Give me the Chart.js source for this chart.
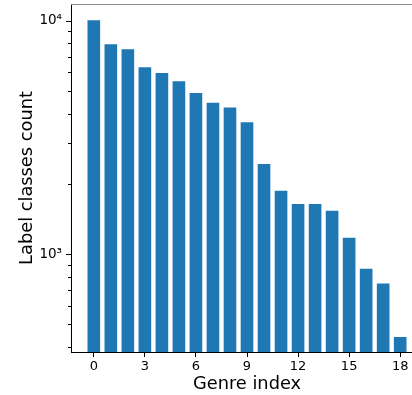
<!DOCTYPE html>
<html>
<head>
<meta charset="utf-8">
<script src="https://cdn.jsdelivr.net/npm/chart.js@4/dist/chart.umd.min.js"></script>
<style>
html,body{margin:0;padding:0;background:#fff;overflow:hidden;width:412px;height:395px;}
#wrap{width:424px;height:395px;}
</style>
</head>
<body>
<div id="wrap"><canvas id="c" width="424" height="395"></canvas></div>
<script>
const genres = [0,1,2,3,4,5,6,7,8,9,10,11,12,13,14,15,16,17,18];
const counts = [10140,8000,7620,6380,6035,5560,4955,4500,4285,3711,2455,1886,1655,1655,1549,1187,874,756,446];
const xTicks = [0,3,6,9,12,15,18];
const yMajor = [1000,10000];
const yMinor = [400,500,600,700,800,900,2000,3000,4000,5000,6000,7000,8000,9000];
const yMajorLabels = {1000:'10\u00B3',10000:'10\u2074'};

const FONT = 'DejaVu Sans';

const spines = {
  id:'spines',
  afterDraw(chart){
    const ctx = chart.ctx, ca = chart.chartArea, y = chart.scales.y;
    ctx.save();
    ctx.strokeStyle = '#000'; ctx.lineWidth = 1;
    y.ticks.forEach(t => {
      const p = Math.round(y.getPixelForValue(t.value)) + 0.5;
      const len = yMajor.includes(t.value) ? 5 : 3;
      ctx.beginPath(); ctx.moveTo(ca.left - len, p); ctx.lineTo(ca.left, p); ctx.stroke();
    });
    ctx.strokeStyle = '#8a8a8a';
    ctx.beginPath(); ctx.moveTo(ca.left, Math.round(ca.top)+0.5); ctx.lineTo(ca.right, Math.round(ca.top)+0.5); ctx.stroke();
    ctx.beginPath(); ctx.moveTo(Math.round(ca.right)+0.5, ca.top); ctx.lineTo(Math.round(ca.right)+0.5, ca.bottom); ctx.stroke();
    ctx.restore();
  }
};

new Chart(document.getElementById('c'), {
  type:'bar',
  data:{
    datasets:[{
      data: genres.map((g,i)=>({x:g, y:counts[i]})),
      backgroundColor:'#1f77b4',
      borderColor:'rgba(255,255,255,0.45)',
      borderWidth:1,
      barPercentage:0.86,
      categoryPercentage:1.0
    }]
  },
  options:{
    responsive:false,
    devicePixelRatio:1,
    animation:false,
    layout:{padding:{top:4,right:1,left:0,bottom:0}},
    plugins:{legend:{display:false},tooltip:{enabled:false}},
    scales:{
      x:{
        type:'linear',
        offset:false,
        min:-1.34, max:19.34,
        afterBuildTicks(scale){ scale.ticks = xTicks.map(v=>({value:v})); },
        afterFit(scale){ scale.height = 43; scale.paddingLeft = 0; scale.paddingRight = 0; },
        grid:{display:true, offset:false, drawOnChartArea:false, drawTicks:true, tickLength:5, tickColor:'#000'},
        border:{display:true, color:'#000', width:1},
        ticks:{autoSkip:false, maxRotation:0, color:'#000', padding:2, font:{family:FONT, size:13}},
        title:{display:true, text:'Genre index', color:'#000', font:{family:FONT, size:17.8}, padding:{top:0,bottom:0}}
      },
      y:{
        type:'logarithmic',
        min:381, max:11790,
        afterBuildTicks(scale){
          scale.ticks = yMinor.concat(yMajor).sort((a,b)=>a-b).map(v=>({value:v, major:yMajor.includes(v)}));
        },
        afterFit(scale){ scale.width = 71; scale.paddingTop = 0; scale.paddingBottom = 0; },
        grid:{display:true, drawOnChartArea:false, drawTicks:true, tickLength:5, tickColor:'rgba(0,0,0,0)'},
        border:{display:true, color:'#000', width:1},
        ticks:{autoSkip:false, color:'#000', padding:4, font:{family:FONT, size:13.5},
          callback(v){ return yMajorLabels[v] || ''; }},
        title:{display:true, text:'Label classes count', color:'#000', font:{family:FONT, size:17.8}, padding:{top:17,bottom:0}}
      }
    }
  },
  plugins:[spines]
});
</script>
</body>
</html>
